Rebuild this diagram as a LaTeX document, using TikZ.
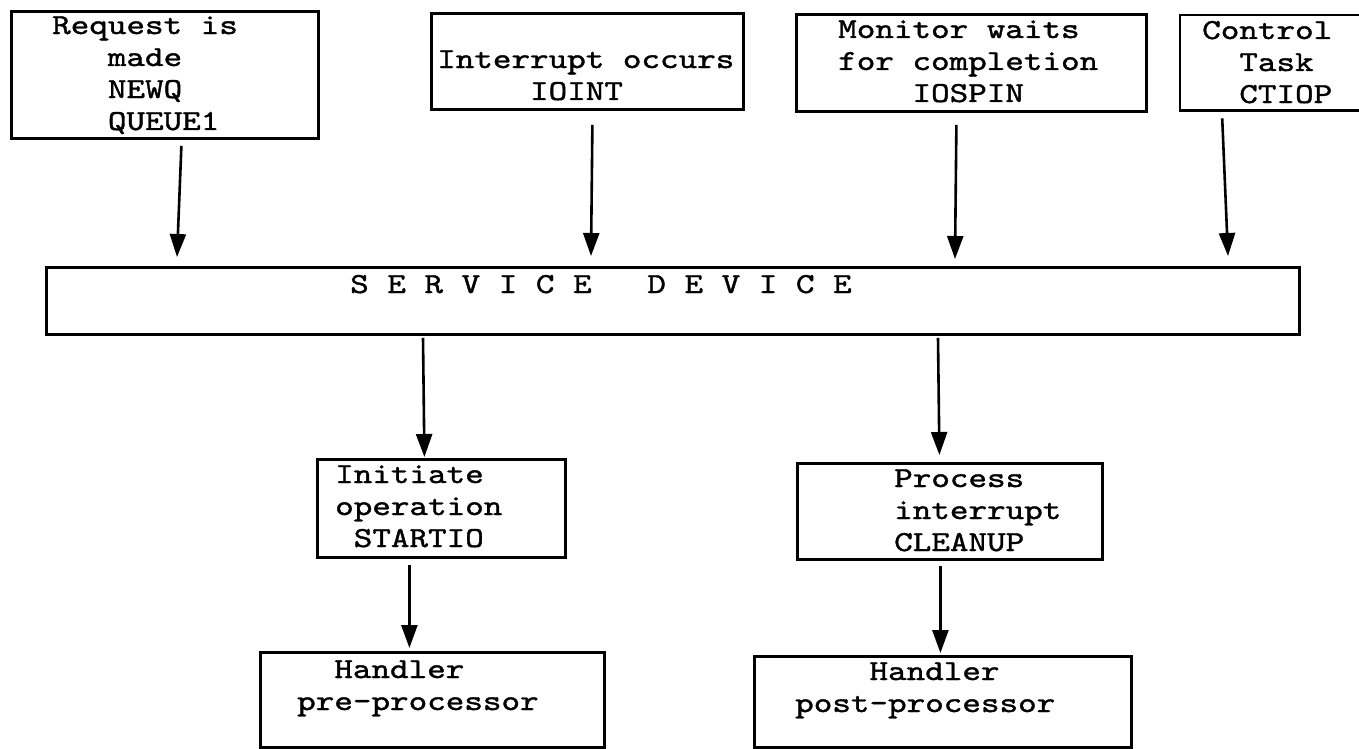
\documentclass[tikz,border=0pt]{standalone}
\usepackage{fontspec}
\newfontfamily\typer[FakeStretch=1.22,FakeBold=1.3]{lmmono10-regular.otf}
\usetikzlibrary{arrows.meta}
\begin{document}
\begin{tikzpicture}[x=1pt,y=-1pt,
  box/.style={draw, line width=2.8pt, inner sep=0pt, anchor=north west},
  frame/.style={inner sep=0pt, anchor=north west},
  edge/.style={line width=2.8pt},
  % multi-line texts are placed by the baseline of their last line
  txt/.style={font=\typer\fontsize{29}{32}\selectfont, anchor=base west,
              inner sep=0pt, align=left},
  arr/.style={line width=2.6pt, -{Triangle[width=16pt,length=23pt]}}]
\useasboundingbox (0,0) rectangle (1359,749);
\fill[white] (0,0) rectangle (1359,749);

% event sources
\node[box, minimum width=307pt, minimum height=127pt] (req) at (10,10) {};
\node[box, minimum width=312pt, minimum height=96pt] (int) at (430,12) {};
\node[box, minimum width=350pt, minimum height=97pt] (mon) at (795,13) {};
\node[frame, minimum width=180pt, minimum height=95pt] (ctl) at (1180,15) {};
\draw[edge] (ctl.north east) -- (ctl.north west) -- (ctl.south west) -- (ctl.south east);

\node[txt] (req-t) at (52,130) {Request is\\\phantom{xxx}made\\\phantom{xxx}NEWQ\\\phantom{xxx}QUEUE1};
\node[txt] (int-t) at (437,100) {Interrupt occurs\\\phantom{xxxxx}IOINT};
\node[txt] (mon-t) at (838,102) {Monitor waits\\for completion\\\phantom{xxxx}IOSPIN};
\node[txt] (ctl-t) at (1202,103) {Control\\\phantom{xx}Task\\\phantom{xx}CTIOP};

% central dispatcher
\node[box, minimum width=1253pt, minimum height=67pt] (svc) at (45,266) {};
\node[txt] (svc-t) at (350,293) {S~E~R~V~I~C~E~~~D~E~V~I~C~E};

% operations
\node[box, minimum width=248pt, minimum height=98pt] (ini) at (316,458) {};
\node[box, minimum width=305pt, minimum height=96pt] (pro) at (796,462) {};
\node[txt] (ini-t) at (335,547) {Initiate\\operation\\\phantom{x}STARTIO};
\node[txt] (pro-t) at (894,551) {Process\\interrupt\\CLEANUP};

% handlers
\node[box, minimum width=344pt, minimum height=95pt] (hpre) at (259,651) {};
\node[box, minimum width=377pt, minimum height=91pt] (hpost) at (753,655) {};
\node[txt] (hpre-t) at (297,710) {\phantom{xx}Handler\\pre-processor};
\node[txt] (hpost-t) at (795,712) {\phantom{xxxx}Handler\\post-processor};

% flow
\draw[arr] ([xshift=16.5pt,yshift=-6pt]req.south) -- ([xshift=132pt,yshift=9pt]svc.north west);
\draw[arr] ([xshift=5pt,yshift=-14pt]int.south) -- ([xshift=546pt,yshift=10pt]svc.north west);
\draw[arr] ([xshift=-15pt,yshift=-12pt]mon.south) -- ([xshift=910pt,yshift=7pt]svc.north west);
\draw[arr] ([xshift=-48pt,yshift=-8pt]ctl.south) -- ([xshift=1183pt,yshift=10pt]svc.north west);
\draw[arr] ([xshift=378pt,yshift=-2pt]svc.south west) -- ([xshift=-17pt,yshift=1pt]ini.north);
\draw[arr] ([xshift=893pt,yshift=-2pt]svc.south west) -- ([xshift=-10.5pt,yshift=7pt]pro.north);
\draw[arr] ([xshift=-32pt,yshift=-6pt]ini.south) -- ([xshift=-23pt,yshift=3pt]hpre.north);
\draw[arr] ([xshift=-9.5pt,yshift=-5pt]pro.south) -- ([xshift=-2.5pt,yshift=2pt]hpost.north);
\end{tikzpicture}
\end{document}
